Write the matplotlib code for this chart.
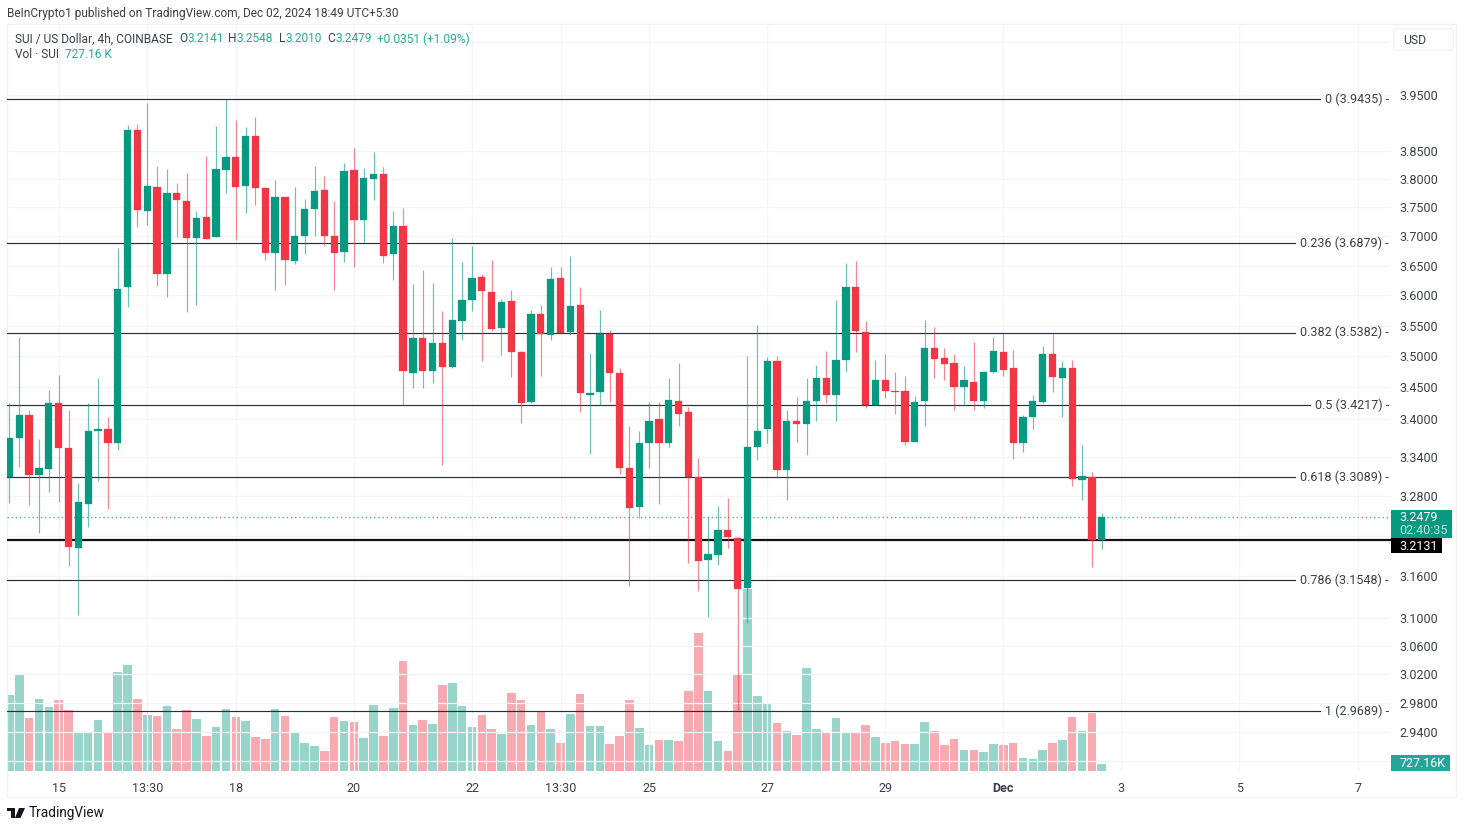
import matplotlib
matplotlib.use('Agg')
import matplotlib.pyplot as plt
from matplotlib.patches import Rectangle, FancyBboxPatch, Polygon
import numpy as np

plt.rcParams['font.family'] = ['Roboto', 'DejaVu Sans']

# candles, 4h
opens = [3.309, 3.370, 3.406, 3.312, 3.322, 3.424, 3.354, 3.202, 3.268, 3.380, 3.383, 3.362,
         3.614, 3.888, 3.744, 3.786, 3.636, 3.775, 3.761, 3.698, 3.734, 3.699, 3.816, 3.839,
         3.788, 3.876, 3.784, 3.672, 3.768, 3.658, 3.701, 3.747, 3.781, 3.701, 3.674, 3.816,
         3.729, 3.800, 3.809, 3.669, 3.718, 3.473, 3.529, 3.476, 3.522, 3.483, 3.557, 3.592,
         3.631, 3.606, 3.546, 3.590, 3.507, 3.427, 3.569, 3.534, 3.630, 3.539, 3.584, 3.438,
         3.443, 3.536, 3.473, 3.323, 3.263, 3.362, 3.399, 3.361, 3.428, 3.410, 3.309, 3.184,
         3.192, 3.229, 3.217, 3.143, 3.356, 3.383, 3.492, 3.320, 3.397, 3.392, 3.428, 3.465,
         3.438, 3.494, 3.614, 3.539, 3.422, 3.461, 3.444, 3.444, 3.364, 3.428, 3.513, 3.497,
         3.489, 3.451, 3.459, 3.428, 3.475, 3.507, 3.480, 3.361, 3.402, 3.427, 3.504, 3.465,
         3.480, 3.305, 3.309, 3.2141]
highs = [3.424, 3.531, 3.414, 3.368, 3.446, 3.470, 3.414, 3.300, 3.424, 3.464, 3.402, 3.680,
         3.897, 3.898, 3.937, 3.823, 3.818, 3.793, 3.810, 3.744, 3.840, 3.895, 3.9435, 3.906,
         3.893, 3.911, 3.786, 3.798, 3.768, 3.786, 3.765, 3.823, 3.805, 3.761, 3.828, 3.855,
         3.819, 3.847, 3.821, 3.744, 3.749, 3.619, 3.643, 3.621, 3.574, 3.698, 3.657, 3.684,
         3.636, 3.660, 3.594, 3.609, 3.508, 3.575, 3.584, 3.648, 3.648, 3.667, 3.614, 3.505,
         3.575, 3.543, 3.481, 3.389, 3.380, 3.427, 3.427, 3.465, 3.489, 3.419, 3.339, 3.248,
         3.265, 3.277, 3.219, 3.500, 3.551, 3.499, 3.500, 3.414, 3.435, 3.465, 3.486, 3.508,
         3.592, 3.655, 3.658, 3.557, 3.494, 3.504, 3.475, 3.468, 3.436, 3.559, 3.548, 3.513,
         3.504, 3.484, 3.523, 3.476, 3.531, 3.536, 3.510, 3.406, 3.438, 3.517, 3.536, 3.492,
         3.494, 3.359, 3.317, 3.2548]
lows = [3.269, 3.325, 3.266, 3.224, 3.286, 3.271, 3.175, 3.104, 3.233, 3.303, 3.260, 3.351,
        3.580, 3.716, 3.720, 3.616, 3.597, 3.699, 3.572, 3.584, 3.696, 3.699, 3.775, 3.693,
        3.741, 3.754, 3.660, 3.609, 3.618, 3.653, 3.669, 3.701, 3.684, 3.609, 3.657, 3.647,
        3.691, 3.763, 3.655, 3.626, 3.421, 3.448, 3.449, 3.457, 3.327, 3.481, 3.526, 3.574,
        3.492, 3.541, 3.502, 3.467, 3.393, 3.424, 3.468, 3.526, 3.538, 3.534, 3.410, 3.345,
        3.421, 3.427, 3.314, 3.146, 3.247, 3.323, 3.268, 3.356, 3.389, 3.180, 3.138, 3.101,
        3.177, 3.202, 2.970, 3.092, 3.336, 3.362, 3.308, 3.274, 3.364, 3.343, 3.397, 3.425,
        3.397, 3.475, 3.507, 3.416, 3.421, 3.432, 3.408, 3.359, 3.364, 3.388, 3.464, 3.461,
        3.413, 3.421, 3.414, 3.416, 3.473, 3.468, 3.337, 3.348, 3.384, 3.425, 3.443, 3.402,
        3.296, 3.274, 3.174, 3.2010]
closes = [3.370, 3.406, 3.312, 3.323, 3.424, 3.354, 3.204, 3.271, 3.380, 3.384, 3.361, 3.611,
          3.888, 3.746, 3.788, 3.636, 3.775, 3.763, 3.698, 3.732, 3.696, 3.818, 3.839, 3.786,
          3.876, 3.784, 3.672, 3.768, 3.660, 3.701, 3.747, 3.779, 3.701, 3.672, 3.814, 3.729,
          3.802, 3.809, 3.667, 3.718, 3.476, 3.529, 3.476, 3.522, 3.483, 3.559, 3.592, 3.630,
          3.607, 3.544, 3.589, 3.507, 3.425, 3.569, 3.536, 3.628, 3.538, 3.582, 3.440, 3.441,
          3.536, 3.473, 3.323, 3.262, 3.362, 3.397, 3.361, 3.430, 3.408, 3.309, 3.183, 3.193,
          3.229, 3.219, 3.141, 3.356, 3.381, 3.492, 3.320, 3.397, 3.391, 3.428, 3.465, 3.438,
          3.494, 3.614, 3.541, 3.421, 3.461, 3.444, 3.443, 3.364, 3.427, 3.513, 3.496, 3.487,
          3.451, 3.461, 3.428, 3.475, 3.508, 3.478, 3.361, 3.402, 3.428, 3.504, 3.467, 3.480,
          3.306, 3.311, 3.214, 3.2479]
# volume in thousands of SUI
volumes = [7400, 9440, 5110, 6960, 6180, 6860, 5920, 3780, 3780, 4920, 3660, 9630,
           10250, 6960, 5400, 5310, 6280, 4050, 5920, 5020, 3420, 4270, 6040, 5270,
           4820, 3300, 3130, 6010, 5340, 3780, 2750, 2400, 1910, 5210, 4850, 4720,
           3230, 6370, 3370, 6140, 10640, 4430, 4980, 4530, 8310, 8510, 6330, 4300,
           5430, 4070, 3560, 7600, 6860, 4490, 5790, 4100, 2750, 5560, 7440, 4340,
           4340, 2590, 3400, 6860, 4170, 2550, 3010, 2980, 2880, 7730, 13420, 7730,
           2910, 1940, 9440, 17650, 7300, 6500, 4630, 3910, 3520, 9960, 4100, 3660,
           5140, 3780, 3750, 4430, 3300, 2720, 2910, 2590, 2590, 4720, 3910, 2550,
           3100, 2040, 2010, 1840, 2620, 2550, 2750, 1290, 1190, 2040, 2750, 3040,
           5210, 3850, 5630, 727.16]

# fib retracement
fib_levels = ['0', '0.236', '0.382', '0.5', '0.618', '0.786', '1']
fib_prices = [3.9435, 3.6879, 3.5382, 3.4217, 3.3089, 3.1548, 2.9689]
hline_price = 3.2131
last_price = 3.2479

# axis ticks
price_ticks = [4.05, 3.95, 3.85, 3.80, 3.75, 3.70, 3.65, 3.60, 3.55, 3.50, 3.45, 3.40,
               3.34, 3.28, 3.22, 3.16, 3.10, 3.06, 3.02, 2.98, 2.94, 2.90]
hidden_price_labels = [4.05, 3.22, 2.90]
time_ticks = [5, 14, 23, 35, 47, 56, 65, 77, 89, 101, 113, 125, 137]
time_labels = ['15', '13:30', '18', '20', '22', '13:30', '25', '27', '29', 'Dec', '3', '5', '7']

UP = '#089981'
DOWN = '#F23645'
TEXT = '#3a3e4a'
GRID = '#f3f4f6'
W, H = 1464, 825


def fx(px):
    return px / W


def fy(py):
    return 1 - py / H


fig = plt.figure(figsize=(W / 100, H / 100), dpi=100, facecolor='white')
rect = [fx(7), fy(771), (1391 - 7) / W, (771 - 24) / H]

# volume sits under the candles on its own scale
ax_vol = fig.add_axes(rect)
ax = fig.add_axes(rect, sharex=ax_vol)
ax.set_zorder(ax_vol.get_zorder() + 1)
ax.patch.set_visible(False)
ax_vol.patch.set_visible(False)

xs = np.arange(len(opens))
o, h, l, c = map(np.array, (opens, highs, lows, closes))
up = c >= o
colors = np.where(up, UP, DOWN)

ax_vol.bar(xs, volumes, width=0.87, color=colors, alpha=0.42, linewidth=0)
ax_vol.set_ylim(0, 72460)
ax_vol.axis('off')

ax.set_yscale('log')
ax.vlines(xs, l, h, colors=colors, linewidth=0.85, alpha=0.6, zorder=4)
ax.bar(xs, np.abs(c - o), bottom=np.minimum(o, c), width=0.74, color=colors,
       edgecolor=colors, linewidth=0.2, zorder=5)

ax.set_xlim(-0.25, 140.4)
ax.set_ylim(2.8872, 4.0831)

ax.set_yticks(price_ticks)
ax.set_yticklabels(['' if t in hidden_price_labels else f'{t:.4f}' for t in price_ticks])
ax.minorticks_off()
ax.yaxis.tick_right()
ax.set_xticks(time_ticks)
ax.set_xticklabels(time_labels)
ax.tick_params(axis='both', length=0, labelsize=9, labelcolor=TEXT)
ax.tick_params(axis='y', pad=6)
ax.tick_params(axis='x', pad=8)
ax.get_xticklabels()[time_labels.index('Dec')].set_fontweight('bold')
ax.grid(True, color=GRID, linewidth=0.9, zorder=0)
ax.set_axisbelow(True)
for s in ax.spines.values():
    s.set_visible(False)

# fib labels first, then the lines stop just short of them
trans = ax.get_yaxis_transform()
fib_texts = []
for lev, pr in zip(fib_levels, fib_prices):
    t = ax.text(0.9985, pr, f'{lev} ({pr:.4f}) -', transform=trans, ha='right', va='center',
                fontsize=9, color=TEXT, zorder=6)
    fib_texts.append(t)
fig.canvas.draw()
rend = fig.canvas.get_renderer()
for t, pr in zip(fib_texts, fib_prices):
    x0 = t.get_window_extent(rend).x0
    xmax = (x0 - 5 - 7) / (1391 - 7)
    ax.axhline(pr, xmin=0, xmax=xmax, color='#2a2e39', linewidth=0.85, zorder=3)

ax.axhline(hline_price, color='#111111', linewidth=1.6, zorder=3)
ax.axhline(last_price, color=UP, linewidth=1.0, linestyle=(0, (1, 2)), alpha=0.75, zorder=3)


def box(x0, y0, x1, y1, color):
    fig.add_artist(Rectangle((fx(x0), fy(y1)), (x1 - x0) / W, (y1 - y0) / H, facecolor=color,
                             edgecolor='none', transform=fig.transFigure, zorder=7))


def label(x, y, s, color=TEXT, size=9, ha='left', **kw):
    fig.text(fx(x), fy(y), s, color=color, fontsize=size, ha=ha, va='center', zorder=8, **kw)


# price tags on the axis
box(1391, 510, 1452, 538, UP)
label(1399, 517.5, '3.2479', color='white')
label(1399, 530.5, '02:40:35', color='#bfe6de')
box(1391, 538, 1442, 553, '#000000')
label(1399, 546.5, '3.2131', color='white')
box(1391, 755, 1450, 771, '#26a69a')
label(1399, 763.5, '727.16K', color='white')

# USD button
fig.add_artist(FancyBboxPatch((fx(1396), fy(49)), 55 / W, 19 / H,
                              boxstyle='round,pad=0.0015', facecolor='white', edgecolor='#eeeff2',
                              linewidth=0.8, transform=fig.transFigure, zorder=7))
label(1403, 40, 'USD', size=8.8)

# pane frame
frame = '#f0f1f3'
for x0, y0, x1, y1 in [(7, 24, 1456, 24), (7, 797, 1456, 797), (1456, 24, 1456, 797), (7, 24, 7, 797)]:
    fig.add_artist(plt.Line2D([fx(x0), fx(x1)], [fy(y0), fy(y1)], color=frame, linewidth=0.9,
                              transform=fig.transFigure, zorder=1))

# header and legend rows
label(7, 14, 'BeInCrypto1 published on TradingView.com, Dec 02, 2024 18:49 UTC+5:30', size=8.6)
LEG = '#22ab94'
label(15, 39, 'SUI / US Dollar, 4h, COINBASE', size=8.6)
for xa, a, xb, b in [(179, 'O', 188, '3.2141'), (228, 'H', 236, '3.2548'),
                     (279, 'L', 286, '3.2010'), (327, 'C', 335, '3.2479')]:
    label(xa, 39, a, size=8.6)
    label(xb, 39, b, color=LEG, size=8.6)
label(377, 39, '+0.0351 (+1.09%)', color=LEG, size=8.6)
label(15, 54.5, 'Vol · SUI', size=8.6)
label(65, 54.5, '727.16 K', color=LEG, size=8.6)

# TradingView mark, bottom left
mark = '#131722'
box(7, 808, 14.5, 811, mark)
box(10.5, 808, 14.5, 818, mark)
fig.add_artist(Polygon([(fx(19), fy(808)), (fx(25), fy(808)), (fx(20.5), fy(818)), (fx(15), fy(818))],
                       closed=True, facecolor=mark, edgecolor='none', transform=fig.transFigure, zorder=7))
label(29, 813.5, 'TradingView', color='#131722', size=9.8)

fig.savefig('out.png', dpi=100)
plt.close(fig)
